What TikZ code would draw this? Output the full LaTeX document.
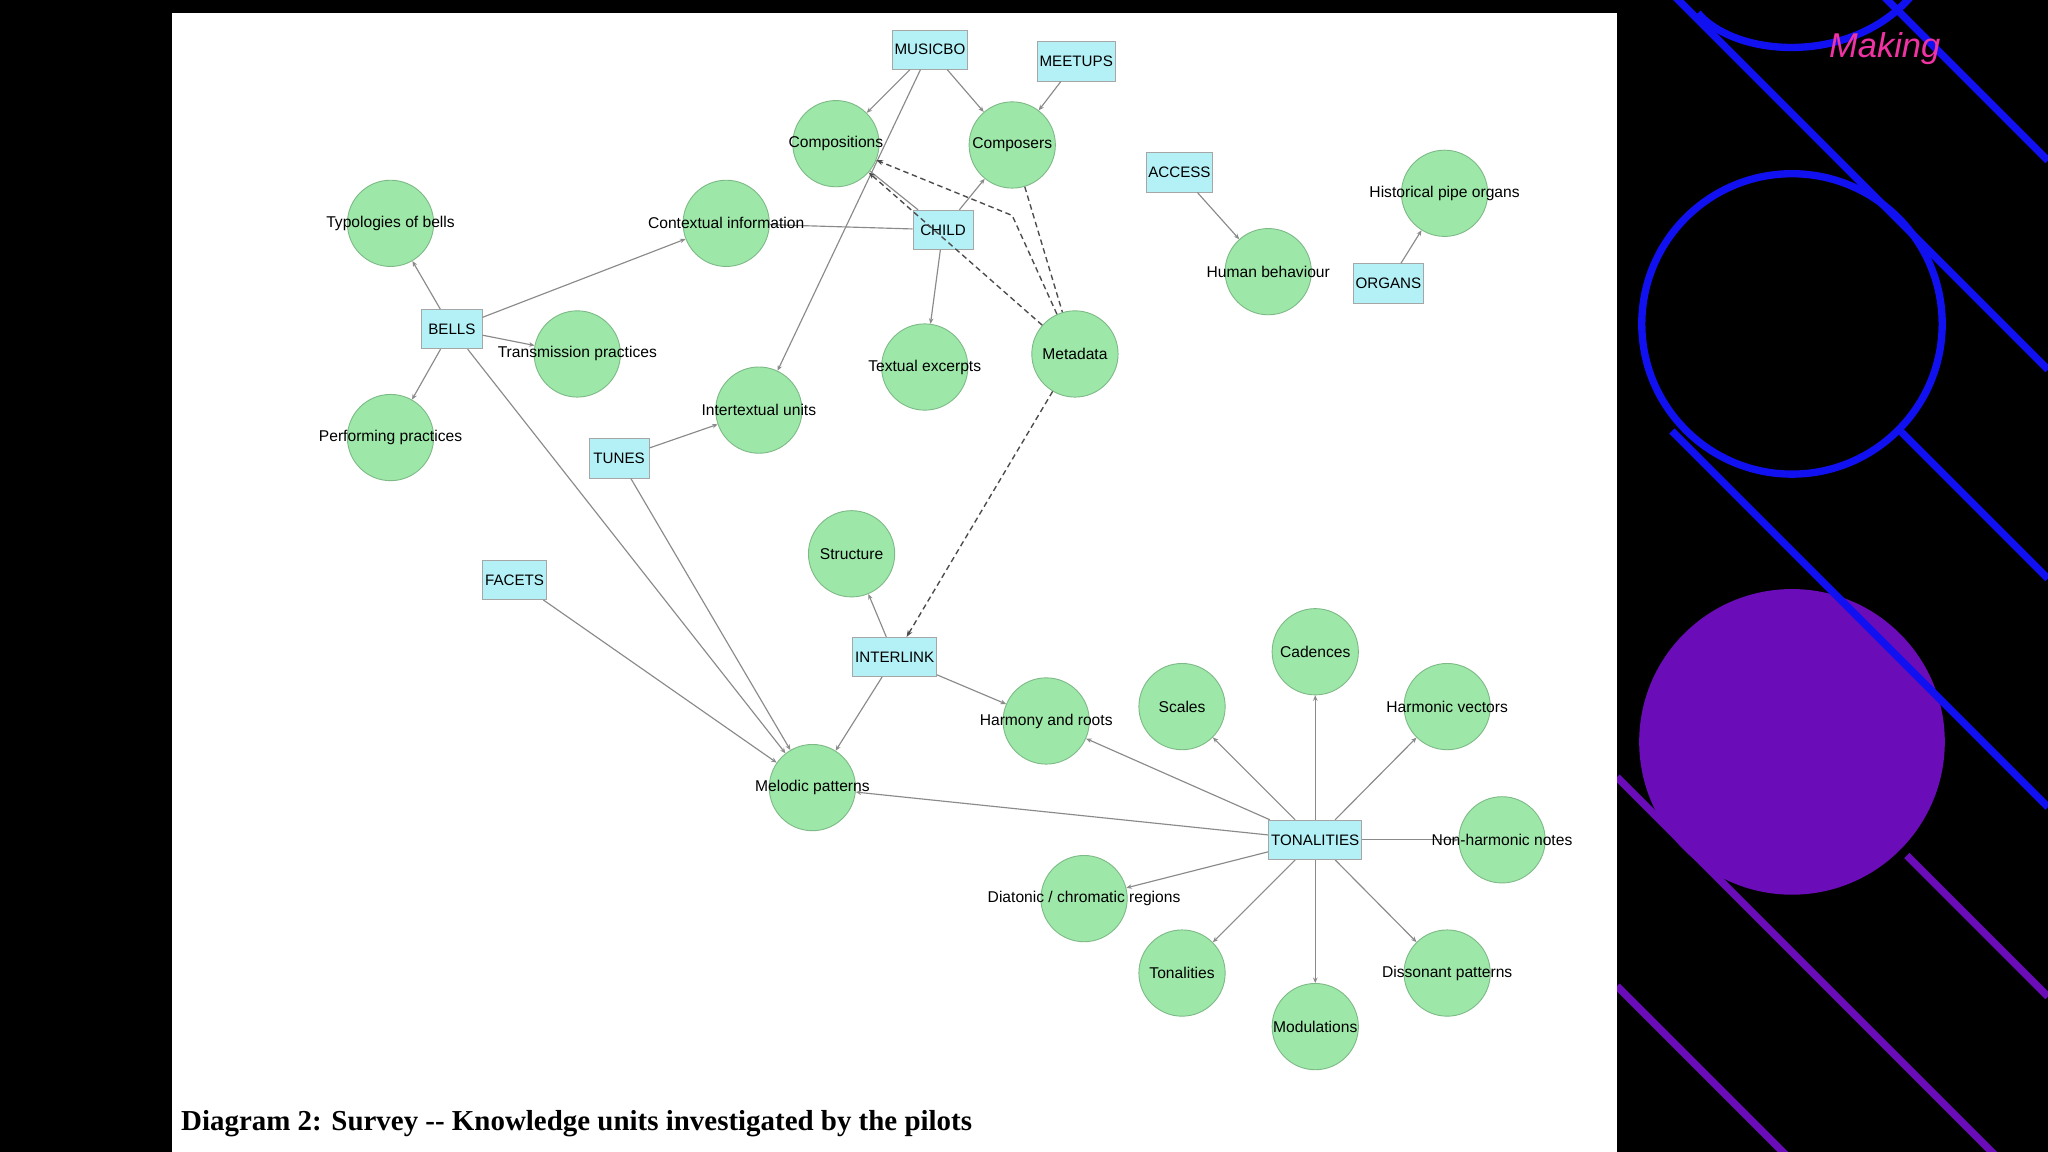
\documentclass[tikz,border=0pt]{standalone}
\usepackage{fontspec}
\setmainfont{Liberation Sans}
\newfontfamily\capfont{Liberation Serif}
\usetikzlibrary{arrows.meta}
\definecolor{cgreen}{HTML}{9DE8A9}
\definecolor{cbox}{HTML}{B4F1F7}
\definecolor{edge}{HTML}{8A8A8A}
\definecolor{dblue}{HTML}{1010F0}
\definecolor{dpurple}{HTML}{6A0DB8}
\tikzset{
 circ/.style={circle,fill=cgreen,draw=cgreen!80!black,line width=0.2pt,minimum size=0.66cm,inner sep=0pt},
 sq/.style={rectangle,fill=cbox,draw=gray!70,line width=0.2pt,minimum width=0.46cm,minimum height=0.3cm,inner sep=0.5pt,font=\fontsize{3.3}{4}\selectfont},
 lab/.style={font=\fontsize{3.4}{4}\selectfont,inner sep=0pt},
 ed/.style={draw=edge,line width=0.25pt,-{Stealth[length=1.2pt,width=1pt]}},
 ln/.style={draw=edge,line width=0.25pt},
 dsh/.style={draw=black!70,line width=0.3pt,dash pattern=on 1.2pt off 0.8pt}
}
\begin{document}
\begin{tikzpicture}[x=0.01cm,y=-0.01cm]
\useasboundingbox (0,0) rectangle (1568,882);
\fill[black] (0,0) rectangle (1568,882);
% right decorations
\begin{scope}
\clip (1238,0) rectangle (1568,882);
\draw[dblue,line width=1.6pt] (1372,248) circle (115);
\fill[dpurple] (1372,568) circle (117);
\draw[dblue,line width=1.6pt] (1280,-5) -- (1568,283);
\draw[dblue,line width=1.6pt] (1440,-5) -- (1568,123);
\draw[dblue,line width=1.6pt] (1280,330) -- (1568,618);
\draw[dblue,line width=1.6pt] (1300,10) .. controls (1330,45) and (1420,50) .. (1465,-5);
\draw[dblue,line width=1.6pt] (1455,330) -- (1568,443);
\draw[dpurple,line width=1.6pt] (1238,595) -- (1530,887);
\draw[dpurple,line width=1.6pt] (1238,755) -- (1370,887);
\draw[dpurple,line width=1.6pt] (1460,655) -- (1568,763);
\end{scope}
\node[font=\itshape\fontsize{7.5}{9}\selectfont,text=magenta!80!white] (mk) at (1443,37) {Making};
% white panel
\fill[white] (132,10) rectangle (1238,882);
% squares
\node[sq] (musicbo) at (712,38) {MUSICBO};
\node[sq] (meetups) at (824,47) {MEETUPS};
\node[sq] (access) at (903,132) {ACCESS};
\node[sq] (child) at (722,176) {CHILD};
\node[sq] (organs) at (1063,217) {ORGANS};
\node[sq] (bells) at (346,252) {BELLS};
\node[sq] (tunes) at (474,351) {TUNES};
\node[sq] (facets) at (394,444) {FACETS};
\node[sq] (interlink) at (685,503) {INTERLINK};
\node[sq] (tonal) at (1007,643) {TONALITIES};
% circles
\foreach \n/\x/\y in {compositions/640/110,composers/775/111,typ/299/171,context/556/171,organ/1106/148,human/971/208,trans/442/271,textual/708/281,metadata/823/271,perf/299/335,inter/581/314,struct/652/424,cad/1007/499,scales/905/541,harmvec/1108/541,harmroot/801/552,melodic/622/603,nonharm/1150/643,diat/830/688,tonalities/905/745,disson/1108/745,modul/1007/786}
 \node[circ] (\n) at (\x,\y) {};
% edges
\draw[ed] (musicbo) -- (compositions);
\draw[ed] (musicbo) -- (composers);
\draw[ed] (meetups) -- (composers);
\draw[ed] (access) -- (human);
\draw[ed] (organs) -- (organ);
\draw[ed] (child) -- (composers);
\draw[ln] (child) -- (compositions);
\draw[ln] (child) -- (context);
\draw[ed] (child) -- (textual);
\draw[ed] (musicbo) -- (inter);
\draw[ed] (bells) -- (typ);
\draw[ed] (bells) -- (context);
\draw[ed] (bells) -- (trans);
\draw[ed] (bells) -- (perf);
\draw[ed] (bells) -- (melodic);
\draw[ed] (tunes) -- (inter);
\draw[ed] (tunes) -- (melodic);
\draw[ed] (facets) -- (melodic);
\draw[ed] (interlink) -- (struct);
\draw[ed] (interlink) -- (harmroot);
\draw[ed] (interlink) -- (melodic);
\draw[dsh,-{Stealth[length=1.5pt]}] (metadata) -- (compositions);
\draw[dsh,-{Stealth[length=1.5pt]}] (metadata) -- (775,165) -- (compositions);
\draw[dsh] (composers) -- (metadata);
\draw[dsh,-{Stealth[length=1.5pt]}] (metadata) -- (interlink);
\foreach \t in {cad,scales,harmvec,harmroot,melodic,nonharm,diat,tonalities,disson,modul}
 \draw[ed] (tonal) -- (\t);
\node[sq] at (tonal) {TONALITIES};
% labels
\node[lab] (l1) at (640,110) {Compositions};
\node[lab] (l2) at (775,111) {Composers};
\node[lab] (l3) at (299,171) {Typologies of bells};
\node[lab] (l4) at (556,171) {Contextual information};
\node[lab] (l5) at (1106,148) {Historical pipe organs};
\node[lab] (l6) at (971,208) {Human behaviour};
\node[lab] (l7) at (442,271) {Transmission practices};
\node[lab] (l8) at (708,281) {Textual excerpts};
\node[lab] (l9) at (823,271) {Metadata};
\node[lab] (l10) at (299,335) {Performing practices};
\node[lab] (l11) at (581,314) {Intertextual units};
\node[lab] (l12) at (652,424) {Structure};
\node[lab] (l13) at (1007,499) {Cadences};
\node[lab] (l14) at (905,541) {Scales};
\node[lab] (l15) at (1108,541) {Harmonic vectors};
\node[lab] (l16) at (801,552) {Harmony and roots};
\node[lab] (l17) at (622,603) {Melodic patterns};
\node[lab] (l18) at (1150,643) {Non-harmonic notes};
\node[lab] (l19) at (830,688) {Diatonic / chromatic regions};
\node[lab] (l20) at (905,745) {Tonalities};
\node[lab] (l21) at (1108,745) {Dissonant patterns};
\node[lab] (l22) at (1007,786) {Modulations};
\node[anchor=west,font=\capfont\bfseries\fontsize{6.3}{7}\selectfont,inner sep=0pt] (cap) at (138,860) {Diagram 2: Survey -- Knowledge units investigated by the pilots};
\end{tikzpicture}
\end{document}
